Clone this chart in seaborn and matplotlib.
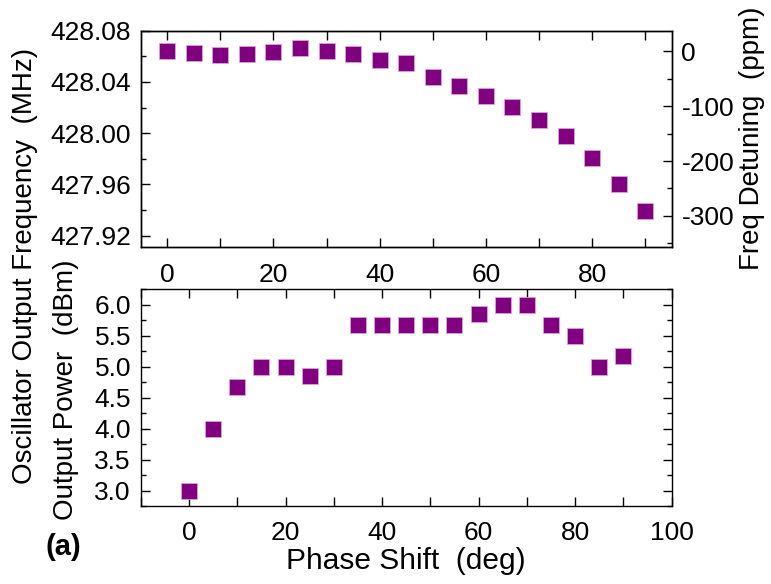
import numpy as np
import pandas as pd
import matplotlib
matplotlib.use("Agg")
import matplotlib.pyplot as plt
import seaborn as sns
from matplotlib.ticker import MultipleLocator, FormatStrFormatter, FuncFormatter
from matplotlib import font_manager

# ---- data ----
phase = [0, 5, 10, 15, 20, 25, 30, 35, 40, 45, 50, 55, 60, 65, 70, 75, 80, 85, 90]
freq_mhz = [428.0639, 428.0626, 428.0613, 428.0621, 428.0636, 428.0662, 428.0644,
            428.0618, 428.0574, 428.0545, 428.0436, 428.0369, 428.0288, 428.0208,
            428.0101, 427.9979, 427.9805, 427.9605, 427.9392]
power_dbm = [3.0, 4.0, 4.67, 5.0, 5.0, 4.84, 5.0, 5.67, 5.67, 5.67, 5.67, 5.67,
             5.84, 6.0, 6.0, 5.67, 5.5, 5.0, 5.17]

sns.set_theme(style="ticks")
plt.rcParams['font.family'] = ['Liberation Sans', 'DejaVu Sans']
for k in ("text.color", "axes.labelcolor", "xtick.color", "ytick.color", "axes.edgecolor"):
    plt.rcParams[k] = "black"
plt.rcParams['axes.linewidth'] = 1.0

installed = {f.name for f in font_manager.fontManager.ttflist}
narrow = "Liberation Sans Narrow" if "Liberation Sans Narrow" in installed else "Liberation Sans"

W, H = 771, 584
fig = plt.figure(figsize=(W / 100, H / 100), dpi=100)

def box(l, t, r, b):
    return [l / W, 1 - b / H, (r - l) / W, (b - t) / H]

ax1 = fig.add_axes(box(140.7, 30.7, 671.7, 247.3))
ax2 = fig.add_axes(box(140.7, 289, 671.7, 506))

purple = "#800080"
df = pd.DataFrame({"phase": phase, "freq": freq_mhz, "power": power_dbm})
kw = dict(marker="s", s=135, color=purple, edgecolor="#d7a6d7", linewidth=0.6, legend=False, zorder=3)
sns.scatterplot(data=df, x="phase", y="freq", ax=ax1, **kw)
sns.scatterplot(data=df, x="phase", y="power", ax=ax2, **kw)

tick_fs = 19
lab_fs = 20
MAJ, MIN = 6.5, 3.5

def style_ticks(ax, **extra):
    ax.tick_params(which="both", direction="in", labelsize=tick_fs, width=1.0, **extra)
    ax.tick_params(which="major", length=MAJ)
    ax.tick_params(which="minor", length=MIN)

# top axes
ax1.set_xlim(-5, 95)
ylo, yhi = 427.911, 428.08
ax1.set_ylim(ylo, yhi)
ax1.xaxis.set_major_locator(MultipleLocator(20))
ax1.xaxis.set_minor_locator(MultipleLocator(10))
ax1.yaxis.set_major_locator(MultipleLocator(0.04))
ax1.yaxis.set_minor_locator(MultipleLocator(0.02))
ax1.yaxis.set_major_formatter(FormatStrFormatter("%.2f"))
ax1.set_xlabel("")
ax1.set_ylabel("")
style_ticks(ax1, top=True, right=False)
ax1.tick_params(axis="x", which="both", pad=11)
ax1.tick_params(axis="y", which="both", pad=7)
ax1.tick_params(axis="x", which="minor", length=MAJ)

f0 = freq_mhz[0]
axr = ax1.twinx()
axr.set_position(ax1.get_position())
axr.set_ylim((ylo - f0) / f0 * 1e6, (yhi - f0) / f0 * 1e6)
axr.yaxis.set_major_locator(MultipleLocator(100))
axr.yaxis.set_minor_locator(MultipleLocator(50))
axr.yaxis.set_major_formatter(FuncFormatter(lambda v, p: f"{int(round(v))}"))
style_ticks(axr)
axr.tick_params(axis="y", which="both", pad=7)
axr.set_ylabel("")

# bottom axes
ax2.set_xlim(-10, 100)
ax2.set_ylim(2.75, 6.25)
ax2.xaxis.set_major_locator(MultipleLocator(20))
ax2.xaxis.set_minor_locator(MultipleLocator(10))
ax2.yaxis.set_major_locator(MultipleLocator(0.5))
ax2.yaxis.set_minor_locator(MultipleLocator(0.25))
ax2.yaxis.set_major_formatter(FormatStrFormatter("%.1f"))
style_ticks(ax2, top=True, right=True)
ax2.tick_params(axis="x", which="both", pad=11)
ax2.tick_params(axis="y", which="both", pad=7)
ax2.tick_params(axis="x", which="minor", length=MAJ)
ax2.set_xlabel("")
ax2.set_ylabel("")
for lbl in ax2.get_xticklabels():
    lbl.set_family([narrow, "DejaVu Sans"])

for ax in (ax1, ax2, axr):
    for sp in ax.spines.values():
        sp.set_linewidth(1.0)
        sp.set_color("black")

fig.text(25 / W, 1 - 266 / H, "Oscillator Output Frequency  (MHz)", rotation=90,
         ha="center", va="center", fontsize=lab_fs)
fig.text(66 / W, 1 - 390 / H, "Output Power  (dBm)", rotation=90,
         ha="center", va="center", fontsize=lab_fs)
fig.text(752 / W, 1 - 138 / H, "Freq Detuning  (ppm)", rotation=90,
         ha="center", va="center", fontsize=lab_fs)
fig.text(406 / W, 1 - 561 / H, "Phase Shift  (deg)", ha="center", va="center", fontsize=21.5)
fig.text(63 / W, 1 - 547 / H, "(a)", fontsize=21, fontweight="bold", ha="center", va="center")

fig.savefig("out.png", dpi=100)
